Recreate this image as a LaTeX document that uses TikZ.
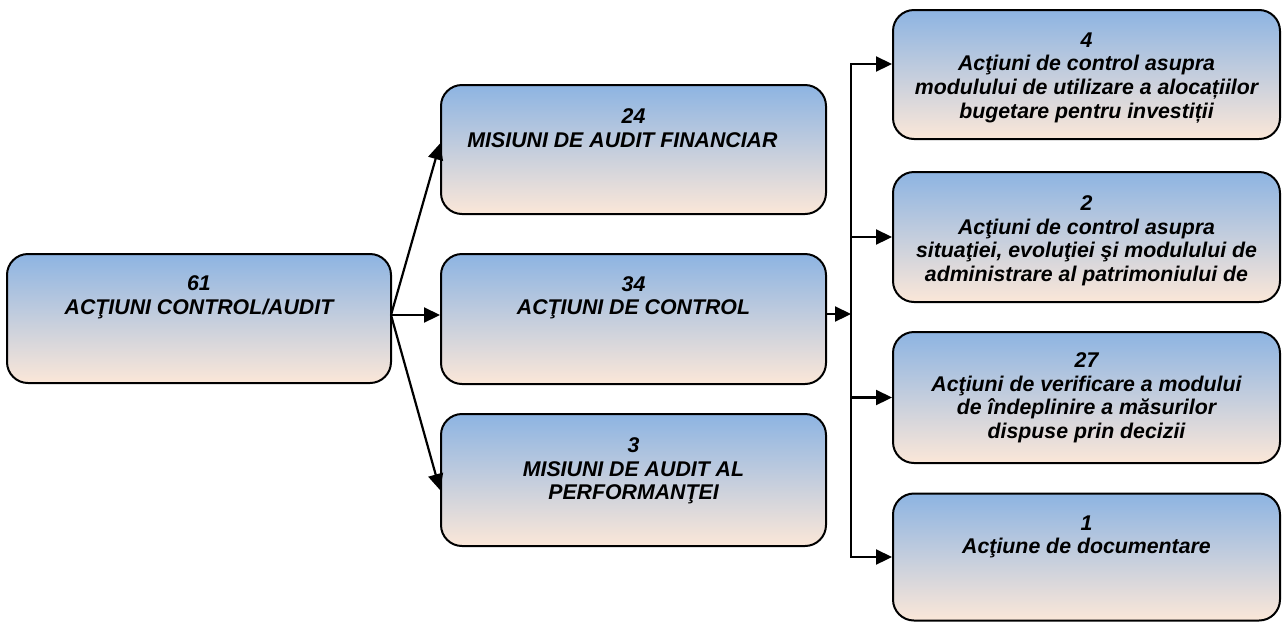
\documentclass[tikz,border=0pt]{standalone}
\usepackage{fontspec}
\setmainfont{Liberation Sans}
\usetikzlibrary{arrows.meta}
\definecolor{topblue}{RGB}{141,180,226}
\definecolor{botpeach}{RGB}{251,231,216}
\tikzset{
  box/.style={draw=black, line width=2pt, rounded corners=21pt, top color=topblue, bottom color=botpeach, inner sep=0pt},
  txt/.style={anchor=north, align=center, inner sep=0pt, font=\fontsize{21.3}{23.6}\selectfont\bfseries\itshape},
  conn/.style={line width=2.2pt, -{Triangle[length=16pt,width=15pt]}}
}
\begin{document}
\begin{tikzpicture}[x=1pt,y=-1pt]
\useasboundingbox (0,0) rectangle (1282,622);
% boxes
\node[box, minimum width=384pt, minimum height=129pt] (L) at (199,318.5) {};
\node[box, minimum width=385pt, minimum height=129pt] (M1) at (633.5,149.5) {};
\node[box, minimum width=385pt, minimum height=130pt] (M2) at (633.5,319) {};
\node[box, minimum width=385pt, minimum height=132pt] (M3) at (633.5,480) {};
\node[box, minimum width=387pt, minimum height=129pt] (R1) at (1086.5,74.5) {};
\node[box, minimum width=387pt, minimum height=130pt] (R2) at (1086.5,237) {};
\node[box, minimum width=387pt, minimum height=131pt] (R3) at (1086.5,397.5) {};
\node[box, minimum width=387pt, minimum height=127pt] (R4) at (1086.5,557) {};
% texts
\node[txt] (Lt) at (199,275.5) {61\\ACŢIUNI CONTROL/AUDIT};
\node[txt] (M1t) at (633.5,108.5) {24\\MISIUNI DE AUDIT FINANCIAR\hspace*{22pt}};
\node[txt] (M2t) at (633.5,276) {34\\ACŢIUNI DE CONTROL};
\node[txt] (M3t) at (633.5,437.5) {3\\MISIUNI DE AUDIT AL\\PERFORMANŢEI};
\node[txt] (R1t) at (1086.5,32.5) {4\\Acţiuni de control asupra\\modulului de utilizare a alocațiilor\\bugetare pentru investiții};
\node[txt] (R2t) at (1086.5,195.5) {2\\Acţiuni de control asupra\\situaţiei, evoluţiei şi modulului de\\administrare al patrimoniului de};
\node[txt] (R3t) at (1086.5,352.5) {27\\Acţiuni de verificare a modului\\de îndeplinire a măsurilor\\dispuse prin decizii};
\node[txt] (R4t) at (1086.5,515.5) {1\\Acţiune de documentare};
% left fan
\coordinate (fan) at (391,315);
\draw[conn] (fan) -- ([yshift=6pt]M1.west);
\draw[conn] (fan) -- (M2.west |- fan);
\draw[conn] (fan) -- ([yshift=-10pt]M3.west);
% right bus
\coordinate (bus) at (851,314);
\coordinate (btop) at (851,64);
\coordinate (bbot) at (851,557);
\draw[conn] (M2.east |- bus) -- (bus);
\draw[conn] (bbot) -- (btop) -- (R1.west |- btop);
\draw[conn] (btop) -- (bbot) -- (R4.west |- bbot);
\draw[conn] (btop |- R2.west) -- (R2.west);
\draw[conn] (btop |- R3.west) -- (R3.west);
\end{tikzpicture}
\end{document}
